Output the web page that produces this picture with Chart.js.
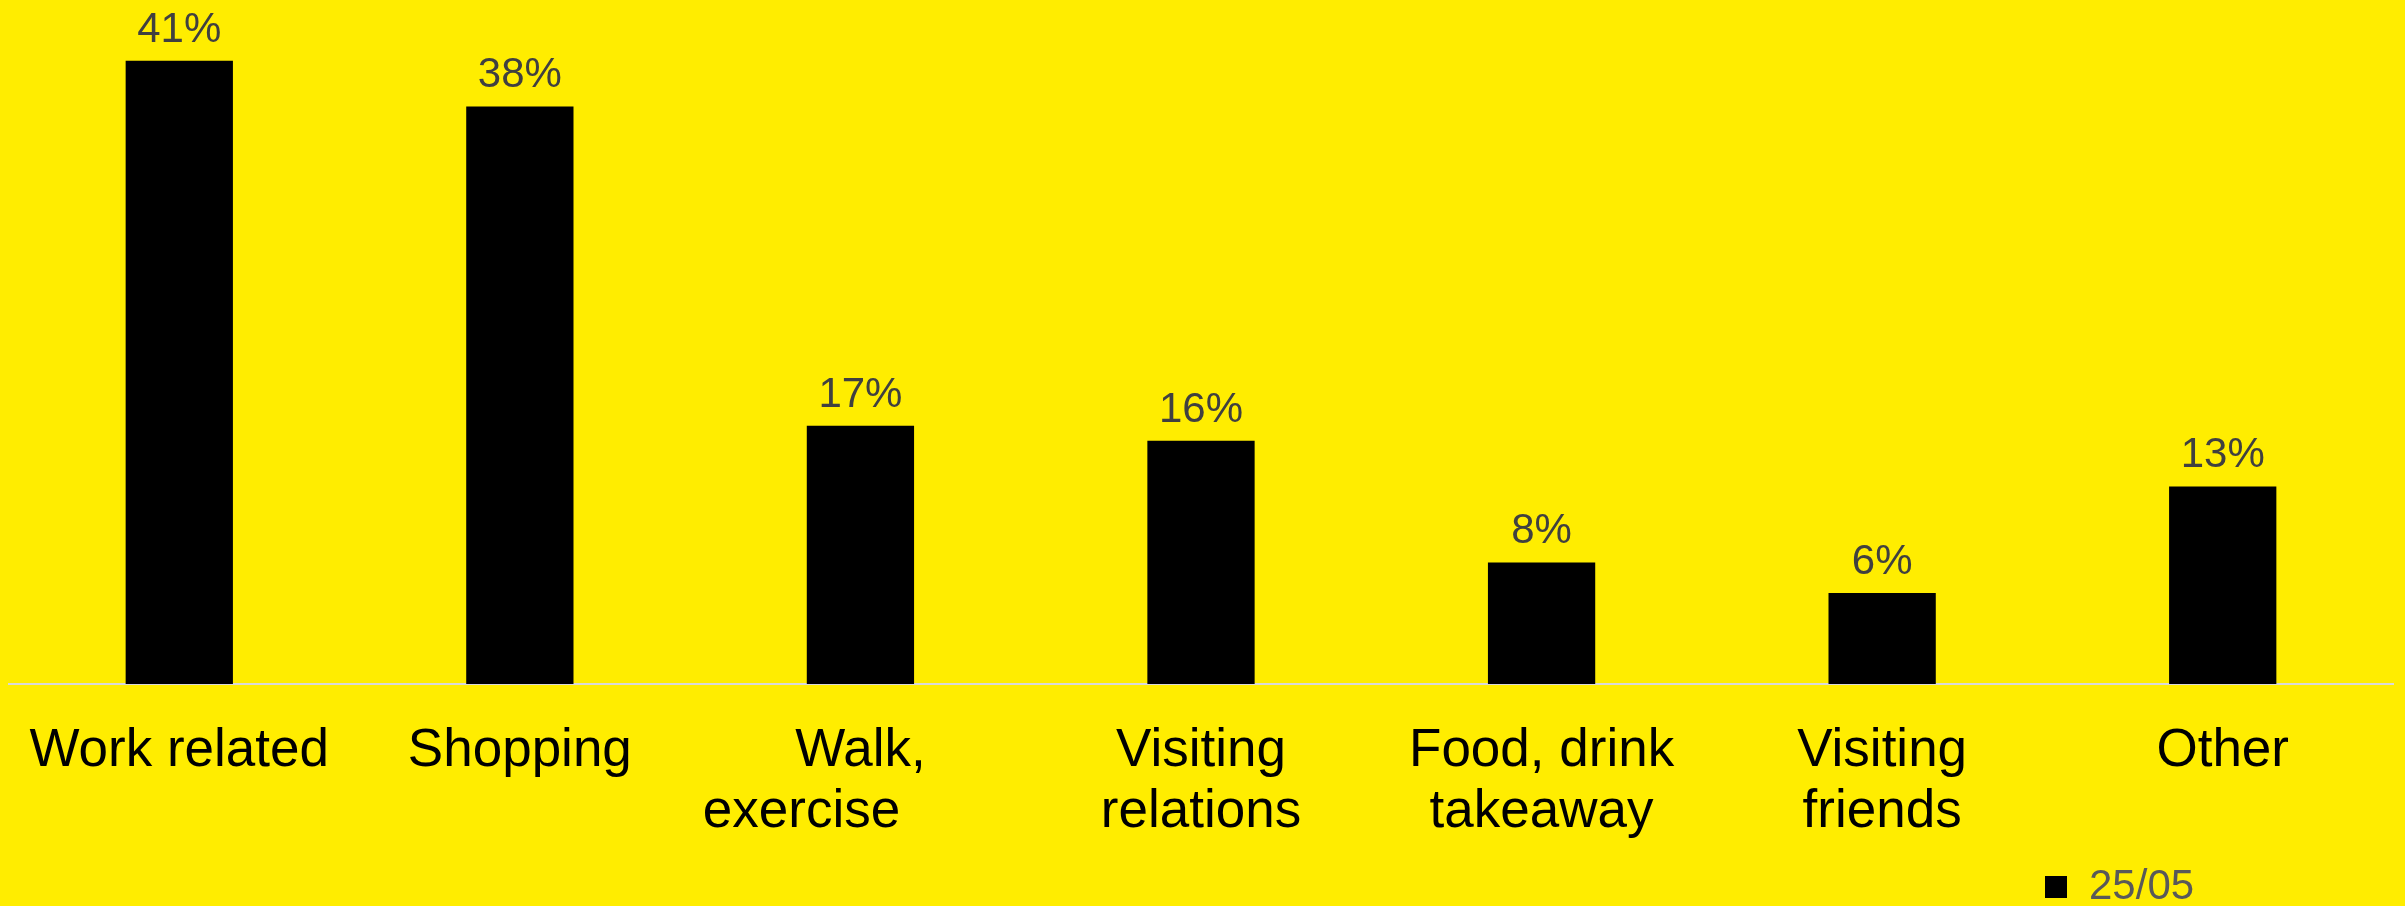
<!DOCTYPE html>
<html>
<head>
<meta charset="utf-8">
<script src="https://cdn.jsdelivr.net/npm/chart.js@4/dist/chart.umd.min.js"></script>
<style>
  html, body { margin: 0; padding: 0; background: #ffed00; }
  #contenedor { width: 2405px; height: 906px; }
</style>
</head>
<body>
<div id="contenedor"><canvas id="grafico"></canvas></div>
<script>
// Datos del gráfico
const categorias = [
  'Work related',
  'Shopping',
  ['Walk,', 'exercise\u00a0\u00a0\u00a0\u00a0\u00a0\u00a0\u00a0\u00a0'],
  ['Visiting', 'relations'],
  ['Food, drink', 'takeaway'],
  ['Visiting', 'friends'],
  'Other'
];
const valores = [41, 38, 17, 16, 8, 6, 13];
const serie = '25/05';

const FUENTE = '"Liberation Sans", Arial, sans-serif';

// Fondo amarillo del canvas
const fondo = {
  id: 'fondo',
  beforeDraw(chart) {
    const ctx = chart.ctx;
    ctx.save();
    ctx.fillStyle = '#ffed00';
    ctx.fillRect(0, 0, chart.width, chart.height);
    ctx.restore();
  }
};

// Porcentaje encima de cada barra
const etiquetasValor = {
  id: 'etiquetasValor',
  afterDatasetsDraw(chart) {
    const ctx = chart.ctx;
    const meta = chart.getDatasetMeta(0);
    ctx.save();
    ctx.font = '42px ' + FUENTE;
    ctx.fillStyle = '#404040';
    ctx.textAlign = 'center';
    ctx.textBaseline = 'alphabetic';
    meta.data.forEach((barra, i) => {
      ctx.fillText(valores[i] + '%', barra.x, barra.y - 19);
    });
    ctx.restore();
  }
};

// Leyenda abajo a la derecha
const leyenda = {
  id: 'leyenda',
  afterDraw(chart) {
    const ctx = chart.ctx;
    const ds = chart.data.datasets[0];
    const x = 2045;
    const y = 887;
    ctx.save();
    ctx.fillStyle = ds.backgroundColor;
    ctx.fillRect(x, y - 11, 22, 22);
    ctx.font = '42px ' + FUENTE;
    ctx.fillStyle = '#595959';
    ctx.textAlign = 'left';
    ctx.textBaseline = 'middle';
    ctx.fillText(ds.label, x + 44, y);
    ctx.restore();
  }
};

const ctx = document.getElementById('grafico').getContext('2d');
new Chart(ctx, {
  type: 'bar',
  data: {
    labels: categorias,
    datasets: [{
      label: serie,
      data: valores,
      backgroundColor: '#000000',
      categoryPercentage: 1,
      barPercentage: 0.315
    }]
  },
  options: {
    responsive: true,
    maintainAspectRatio: false,
    animation: false,
    layout: {
      padding: { left: 9, right: 12, top: 0, bottom: 63 }
    },
    plugins: {
      legend: { display: false },
      tooltip: { enabled: false }
    },
    scales: {
      x: {
        // la separación se da con tickLength para no empujar el área del gráfico
        grid: { display: false, drawTicks: true, tickLength: 37 },
        border: { display: true, color: '#d9d9d9', width: 2 },
        ticks: {
          color: '#000000',
          padding: 0,
          maxRotation: 0,
          autoSkip: false,
          font: { family: FUENTE, size: 53, lineHeight: 1.15 }
        }
      },
      y: {
        display: false,
        min: 0,
        max: 45
      }
    }
  },
  plugins: [fondo, etiquetasValor, leyenda]
});
</script>
</body>
</html>
